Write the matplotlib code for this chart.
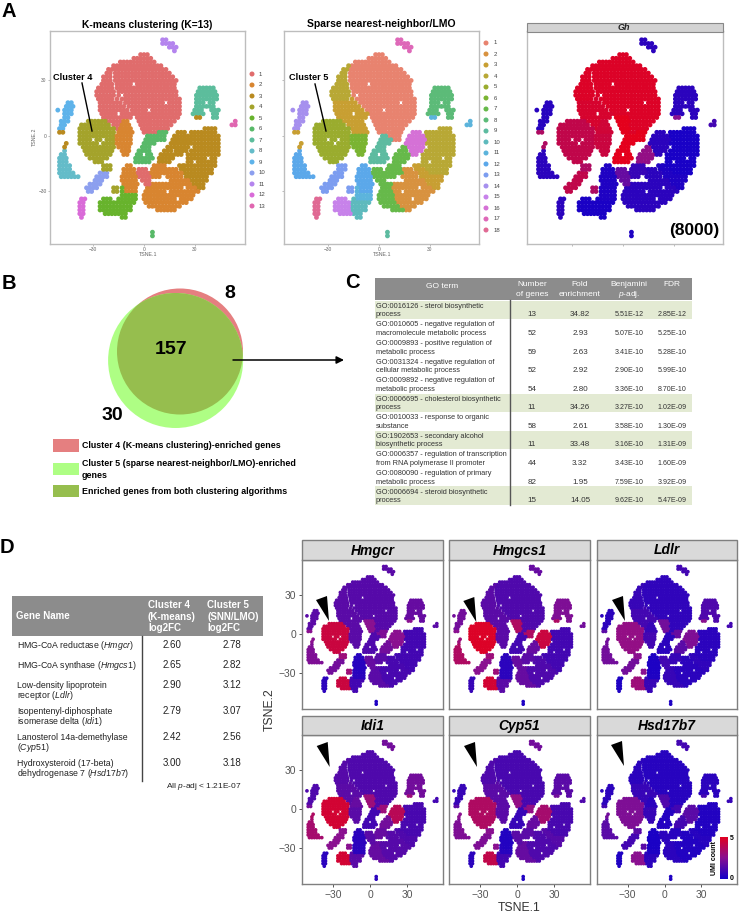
import numpy as np
import matplotlib
matplotlib.use("Agg")
import matplotlib.pyplot as plt
from matplotlib.colors import LinearSegmentedColormap
from matplotlib.patches import Rectangle, Circle, Polygon

plt.rcParams['font.family'] = ['Liberation Sans', 'DejaVu Sans']
plt.rcParams['mathtext.fontset'] = 'custom'
plt.rcParams['mathtext.rm'] = 'Liberation Sans'
plt.rcParams['mathtext.it'] = 'Liberation Sans:italic'
plt.rcParams['mathtext.bf'] = 'Liberation Sans:bold'

W, H = 739, 914

# ---- t-SNE occupancy: (TSNE.2 row, TSNE.1 from, TSNE.1 to) ----
region_a = [(44,-2,3),(42,-6,4),(40,-14,6),(38,-16,10),(36,-17,14),(34,-17,16),(32,-17,18),(30,-17,19),
            (28,-16,19),(26,-16,19),(24,-15,19),(22,-15,19),(20,-13,21),(18,-11,22),(16,-9,22),(14,-7,22),
            (12,-5,22),(10,4,21),(8,4,19),(6,4,16),(4,4,14),(2,4,8)]
region_a2 = [(10,-4,3),(8,-3,3),(6,-2,3),(4,-1,3),(2,0,3)]
region_b = [(38,-18,-18),(36,-21,-19),(34,-22,-19),(32,-24,-19),(30,-24,-19),(28,-25,-18),(26,-27,-18),
            (24,-28,-17),(22,-28,-17),(20,-27,-18)]
region_b2 = [(20,-16,-15),(18,-26,-13),(16,-26,-11),(14,-26,-9),(12,-25,-7),(10,-24,-7),(8,-22,-13),(6,-18,-14),(4,-16,-15)]
region_c = [(8,-33,-23),(6,-37,-20),(4,-38,-18),(2,-38,-17),(0,-38,-17),(-2,-38,-17),(-4,-38,-17),(-6,-36,-17),
            (-8,-35,-18),(-10,-34,-20),(-12,-32,-22),(-14,-29,-24)]
region_d1 = [(8,-12,-9),(6,-13,-8),(4,-14,-7),(2,-15,-7)]
region_d2 = [(0,-16,-7),(-2,-16,-7),(-4,-16,-7),(-6,-15,-8),(-8,-13,-9),(-10,-12,-10)]
region_e1 = [(2,9,13),(0,6,12),(-2,8,12)]
region_e = [(0,2,5),(-2,1,7),(-4,0,6),(-6,-1,4),(-8,-3,4),(-10,-4,4),(-12,-5,5),(-14,-5,4)]
region_f = [(4,36,42),(2,28,43),(0,28,44),(-2,28,44),(-4,28,44),(-6,30,44),(-8,28,44),(-10,26,44),(-12,26,43),
            (-14,26,43),(-16,24,42),(-18,28,41),(-20,30,40)]
region_f2 = [(-16,21,23),(-18,22,27),(-20,24,29),(-22,25,38),(-24,27,37),(-26,29,36),(-28,31,35)]
region_h = [(-6,14,17),(-8,12,17),(-10,10,18),(-12,9,18),(-14,9,16)]
region_i = [(2,20,25),(0,18,27),(-2,17,27),(-4,16,27),(-6,18,26),(-8,19,25),(-10,20,22),(-10,24,25)]
region_g7 = [(-16,6,12),(-18,5,14),(-20,4,15),(-22,3,10)]
region_g2 = [(-18,15,20),(-20,16,22),(-22,14,23),(-24,16,26),(-26,9,28),(-28,8,30),(-30,8,33),(-32,9,30),
             (-34,10,28),(-36,11,26),(-38,13,22),(-40,16,19)]
region_g7b = [(-26,3,7),(-28,2,7),(-30,1,7),(-32,0,8),(-34,0,9),(-36,1,10),(-38,3,12),(-40,8,14)]
region_l = [(-18,-3,2),(-20,-4,3),(-22,-3,3),(-24,-1,3),(-26,1,3)]
region_k = [(-16,-10,-7),(-18,-12,-6),(-20,-12,-6),(-22,-13,-5),(-24,-13,-5),(-26,-12,-4),(-28,-11,-4),(-30,-11,-5)]
region_j11 = [(-28,-13,-12),(-30,-13,-12),(-32,-13,-5),(-34,-13,-5)]
region_j10 = [(-34,-15,-14),(-36,-16,-6),(-38,-16,-7),(-40,-16,-8),(-42,-15,-10),(-44,-13,-10)]
region_j15 = [(-34,-24,-19),(-36,-26,-17),(-38,-26,-17),(-40,-26,-17),(-42,-23,-17)]
region_o = [(-20,-26,-22),(-22,-28,-22),(-24,-29,-24),(-26,-32,-25),(-28,-34,-27),(-30,-33,-31)]
region_o2 = [(-16,-24,-20),(-18,-24,-20),(-28,-18,-16),(-30,-18,-16)]
region_m = [(-8,-47,-46),(-10,-49,-46),(-12,-50,-45),(-14,-50,-45),(-16,-50,-44),(-18,-50,-43),(-20,-50,-41),(-22,-49,-39)]
region_m2 = [(-4,-46,-46),(-6,-47,-46)]
region_n = [(18,-45,-42),(16,-46,-42),(14,-51,-51),(14,-47,-43),(12,-47,-43),(10,-47,-44),(8,-49,-44),(6,-49,-46),(4,-50,-47)]
region_n2 = [(2,-50,-47)]
region_p = [(52,11,14),(50,11,17),(48,15,19),(46,18,19)]
region_q = [(-34,-37,-35),(-36,-38,-36),(-38,-38,-36),(-40,-38,-36),(-42,-38,-36),(-44,-37,-36)]
region_r = [(26,33,42),(24,32,42),(22,31,43),(20,31,43),(18,31,42),(16,31,42),(14,30,36),(14,40,44),(12,29,35),(12,41,44),(10,41,44)]
region_r2 = [(10,31,33)]
region_s = [(8,54,55),(6,52,54)]
region_t = [(-52,5,5),(-54,5,6)]

region_names = ['a','a2','b','b2','c','d1','d2','e1','e','f','f2','h','i','g7','g2','g7b','l','k','j11','j10','j15',
                'o','o2','m','m2','n','n2','p','q','r','r2','s','t']
region_spans = [region_a,region_a2,region_b,region_b2,region_c,region_d1,region_d2,region_e1,region_e,region_f,region_f2,
                region_h,region_i,region_g7,region_g2,region_g7b,region_l,region_k,region_j11,region_j10,region_j15,
                region_o,region_o2,region_m,region_m2,region_n,region_n2,region_p,region_q,region_r,region_r2,region_s,region_t]

kmeans_label = [1,1,1,1,4,2,2,6,6,3,3,3,3,2,2,2,1,2,5,5,5,10,4,8,3,9,3,11,12,7,3,13,6]
snn_label    = [1,1,4,3,5,3,6,1,9,4,3,7,16,7,2,7,7,12,11,10,15,13,13,12,3,14,3,17,18,8,11,11,9]

# expression level of each region on a 0-1 colour scale, same order as region_names
gh      = [.95,1,.95,.92,.8,.88,.85,1,1,.02,.05,.55,.1,.15,.1,.1,.35,.05,.05,.03,.03,.8,.7,.1,.7,.08,.7,.1,.1,.1,.5,.2,.05]
hmgcr   = [.28,.5,.3,.3,.85,.3,.3,.45,.25,.2,.2,.4,.5,.3,.22,.3,.35,.08,.1,.2,.85,.4,.6,.45,.5,.3,.5,.3,.1,.35,.5,.3,.05]
hmgcs1  = [.25,.7,.3,.3,.95,.3,.3,.7,.2,.2,.2,.35,.85,.3,.25,.35,.35,.1,.1,.3,.9,.5,.6,.7,.6,.4,.5,.35,.15,.45,.7,.4,.05]
ldlr    = [.12,.4,.15,.2,.55,.15,.2,.35,.1,.1,.12,.3,.45,.15,.1,.15,.2,.04,.05,.15,.6,.4,.5,.4,.4,.1,.3,.2,.05,.25,.5,.2,.05]
idi1    = [.25,.6,.28,.3,.9,.35,.3,.6,.2,.22,.25,.4,.75,.35,.28,.35,.3,.1,.1,.3,.9,.5,.5,.65,.7,.25,.4,.4,.1,.4,.6,.2,.1]
cyp51   = [.22,.55,.25,.3,.7,.3,.3,.55,.15,.22,.28,.35,.65,.3,.25,.35,.3,.06,.08,.2,.8,.45,.5,.45,.5,.15,.3,.4,.1,.3,.4,.25,.05]
hsd17b7 = [.08,.25,.1,.15,.45,.1,.15,.2,.07,.06,.08,.2,.3,.08,.06,.1,.1,.03,.04,.1,.5,.2,.3,.3,.4,.1,.2,.2,.05,.1,.2,.15,.05]

# empty patches inside the clouds
gaps = [(-18,26),(-13,22),(-6,28),(2,24),(8,30),(-10,33),(14,24),(12,12),(7,10),(-2,18),(-8,15),(3,14),(13,18),(18,14),
        (-15,12),(6,20),(-21,30),(-26,-4),(-29,-6),(-24,-2),(-30,-2),(-22,-8),(-27,-10),(-11,-2),(-9,0),(27,-6),(24,-10),
        (30,-14),(35,-6),(38,-12),(33,-20),(14,-30),(20,-34),(24,-28),(12,-26),(37,18),(36,20),(38,16),(36,14),(0,-10)]

kmeans_colors = ['#E06C6C','#D88530','#B98A1F','#A4A32B','#67B32C','#58B968','#5CBD9C','#64BCC9','#5EB3EA','#8C9FEF',
                 '#B484EE','#D96BD8','#E066B0']
snn_colors = ['#E8836F','#D8923F','#C89F32','#B8A835','#9AAC2E','#7AB432','#66B94A','#5CBB78','#5DBBA0','#5EBABD',
              '#5CB4DC','#5BA8EA','#7C9DF0','#A690EE','#C782EA','#D571D6','#DE68B8','#E06A94']

gene_panels = ['Hmgcr','Hmgcs1','Ldlr','Idi1','Cyp51','Hsd17b7']
gene_values = [hmgcr,hmgcs1,ldlr,idi1,cyp51,hsd17b7]
umi_cmap = LinearSegmentedColormap.from_list('umi', ['#1400C8','#8A1090','#E4001C'])

# ---- tables ----
go_terms = [('GO:0016126 - sterol biosynthetic','process'),
            ('GO:0010605 - negative regulation of','macromolecule metabolic process'),
            ('GO:0009893 - positive regulation of','metabolic process'),
            ('GO:0031324 - negative regulation of','cellular metabolic process'),
            ('GO:0009892 - negative regulation of','metabolic process'),
            ('GO:0006695 - cholesterol biosynthetic','process'),
            ('GO:0010033 - response to organic','substance'),
            ('GO:1902653 - secondary alcohol','biosynthetic process'),
            ('GO:0006357 - regulation of transcription','from RNA polymerase II promoter'),
            ('GO:0080090 - regulation of primary','metabolic process'),
            ('GO:0006694 - steroid biosynthetic','process')]
go_genes = ['13','52','59','52','54','11','58','11','44','82','15']
go_fold = ['34.82','2.93','2.63','2.92','2.80','34.26','2.61','33.48','3.32','1.95','14.05']
go_padj = ['5.51E-12','5.07E-10','3.41E-10','2.90E-10','3.36E-10','3.27E-10','3.58E-10','3.16E-10','3.43E-10','7.59E-10','9.62E-10']
go_fdr = ['2.85E-12','5.25E-10','5.28E-10','5.99E-10','8.70E-10','1.02E-09','1.30E-09','1.31E-09','1.60E-09','3.92E-09','5.47E-09']
go_shaded = [0,5,7,10]

gene_lines = [['HMG-CoA reductase ($\\mathit{Hmgcr}$)'],
              ['HMG-CoA synthase ($\\mathit{Hmgcs1}$)'],
              ['Low-density lipoprotein','receptor ($\\mathit{Ldlr}$)'],
              ['Isopentenyl-diphosphate','isomerase delta ($\\mathit{Idi1}$)'],
              ['Lanosterol 14a-demethylase','($\\mathit{Cyp51}$)'],
              ['Hydroxysteroid (17-beta)','dehydrogenase 7 ($\\mathit{Hsd17b7}$)']]
log2fc_c4 = ['2.60','2.65','2.90','2.79','2.42','3.00']
log2fc_c5 = ['2.78','2.82','3.12','3.07','2.56','3.18']

# ---- expand occupancy into points ----
px, py, preg = [], [], []
for r, spans in enumerate(region_spans):
    for y, x0, x1 in spans:
        for x in range(x0, x1 + 1, 2):
            if any(abs(x - gx) < 1 and abs(y - gy) <= 1 for gx, gy in gaps):
                continue
            px.append(x); py.append(y); preg.append(r)
px, py, preg = np.array(px), np.array(py), np.array(preg)

fig = plt.figure(figsize=(W / 100, H / 100), dpi=100, facecolor='white')

def panel(l, t, r, b, edge, lw):
    ax = fig.add_axes([l / W, 1 - b / H, (r - l) / W, (b - t) / H])
    for s in ax.spines.values():
        s.set_color(edge); s.set_linewidth(lw)
    return ax

SMALL = '#666666'
def small_panel(l, r, x0px, labels_x, labels_y):
    ax = panel(l, 31, r, 244, '#BDBDBD', 1.0)
    ax.set_xlim((l - x0px) / 1.69, (r - x0px) / 1.69)
    ax.set_ylim((136 - 244) / 1.85, (136 - 31) / 1.85)
    ax.set_xticks([-30, 0, 30]); ax.set_yticks([-30, 0, 30])
    ax.tick_params(length=1.5, width=0.4, color='#888888', labelsize=3.5, labelcolor=SMALL, pad=1,
                   labelbottom=labels_x, labelleft=labels_y)
    return ax

# panel A
ax1 = small_panel(50, 245, 144, True, True)
ax1.scatter(px, py, s=12, c=[kmeans_colors[kmeans_label[i] - 1] for i in preg], linewidths=0)
ax2 = small_panel(284, 479, 379, True, False)
ax2.scatter(px, py, s=12, c=[snn_colors[snn_label[i] - 1] for i in preg], linewidths=0)
ax3 = small_panel(527, 723, 623, False, False)
ax3.scatter(px, py, s=12, c=np.array(gh)[preg], cmap=umi_cmap, vmin=0, vmax=1, linewidths=0)
ax3.set_yticks([])

# panel D
cols = [(302, 443), (449, 590), (597, 737)]
rows = [(560, 709, 634), (735, 884, 809)]
for k, (gene, vals) in enumerate(zip(gene_panels, gene_values)):
    l, r = cols[k % 3]
    t, b, y0 = rows[k // 3]
    ax = panel(l, t, r, b, '#7F7F7F', 1.0)
    ax.set_xlim(-55, 59); ax.set_ylim(-57.7, 57)
    ax.scatter(px, py, s=7, c=np.array(vals)[preg], cmap=umi_cmap, vmin=0, vmax=1, linewidths=0)
    ax.set_xticks([-30, 0, 30] if k >= 3 else [])
    ax.set_yticks([-30, 0, 30] if k % 3 == 0 else [])
    ax.set_xticklabels(['\u221230', '0', '30'] if k >= 3 else [])
    ax.set_yticklabels(['\u221230', '0', '30'] if k % 3 == 0 else [])
    ax.tick_params(length=2.5, width=0.7, color='#555555', labelsize=7.4, labelcolor='#555555', pad=1.5)

# colour bar
cax = fig.add_axes([720 / W, 1 - 879 / H, 8 / W, 42 / H])
cax.imshow(np.linspace(1, 0, 64).reshape(-1, 1), cmap=umi_cmap, aspect='auto', vmin=0, vmax=1)
cax.axis('off')

# overlay in pixel coordinates
ov = fig.add_axes([0, 0, 1, 1], facecolor='none')
ov.set_xlim(0, W); ov.set_ylim(H, 0); ov.axis('off')
T = ov.text

for s, x, y in zip('ABCD', (2, 2, 345, 0), (17, 289, 288, 553)):
    T(x, y, s, fontsize=14.5, fontweight='bold', ha='left', va='baseline')

T(147, 25, 'K-means clustering (K=13)', fontsize=7.4, fontweight='bold', ha='center', va='center')
T(381, 24, 'Sparse nearest-neighbor/LMO', fontsize=7.5, fontweight='bold', ha='center', va='center')
T(53, 77, 'Cluster 4', fontsize=6.6, fontweight='bold', va='center')
T(289, 77, 'Cluster 5', fontsize=6.6, fontweight='bold', va='center')
ov.plot([82, 92], [83, 131], color='black', lw=1)
ov.plot([315, 326], [84, 131], color='black', lw=1)
for x, y, s, rot in [(148, 254, 'TSNE.1', 0), (34, 137, 'TSNE.2', 90), (382, 254, 'TSNE.1', 0)]:
    T(x, y, s, fontsize=3.8, color=SMALL, ha='center', va='center', rotation=rot)

ov.scatter([252] * 13, [74 + 11 * i for i in range(13)], s=13, c=kmeans_colors, linewidths=0)
for i in range(13):
    T(259, 74 + 11 * i, str(i + 1), fontsize=4.3, color='#444444', va='center')
ov.scatter([486] * 18, [43 + 11 * i for i in range(18)], s=13, c=snn_colors, linewidths=0)
for i in range(18):
    T(494, 43 + 11 * i, str(i + 1), fontsize=4.3, color='#444444', va='center')

ov.add_patch(Rectangle((527, 23), 196, 9, fc='#D3D3D3', ec='#888888', lw=0.8))
T(624, 28, 'Gh', fontsize=6.5, fontstyle='italic', fontweight='bold', ha='center', va='center', color='#222222')
T(719, 231, '(8000)', fontsize=12.5, fontweight='bold', ha='right', va='center')

# panel B
pink = Circle((180, 351.5), 63, fc='#E57F80', ec='none')
ov.add_patch(pink)
lime = Circle((175.6, 360.5), 67.5, fc='#AEFE84', ec='none')
ov.add_patch(lime)
both = Circle((180, 351.5), 63, fc='#96BE4E', ec='none')
ov.add_patch(both)
both.set_clip_path(Circle((175.6, 360.5), 67.5, transform=ov.transData))
T(171, 350, '157', fontsize=14, fontweight='bold', ha='center', va='center')
T(230, 294, '8', fontsize=14, fontweight='bold', ha='center', va='center')
T(112, 416, '30', fontsize=14, fontweight='bold', ha='center', va='center')
ov.annotate('', xy=(344, 360), xytext=(233, 360), arrowprops=dict(arrowstyle='-|>', color='black', lw=1.1, mutation_scale=11, shrinkA=0, shrinkB=0))
for y0, y1, c in [(439, 452, '#E57F80'), (463, 475, '#AEFE84'), (485, 497, '#96BE4E')]:
    ov.add_patch(Rectangle((53, y0), 26, y1 - y0, fc=c, ec='none'))
T(82, 445, 'Cluster 4 (K-means clustering)-enriched genes', fontsize=6.4, fontweight='bold', va='center')
T(82, 463, 'Cluster 5 (sparse nearest-neighbor/LMO)-enriched', fontsize=6.4, fontweight='bold', va='center')
T(82, 475, 'genes', fontsize=6.4, fontweight='bold', va='center')
T(82, 491, 'Enriched genes from both clustering algorithms', fontsize=6.4, fontweight='bold', va='center')

# panel C
ov.add_patch(Rectangle((375, 278), 317, 22, fc='#8C8C8C', ec='none'))
step = 18.57
top = 300.7
for i in go_shaded:
    ov.add_patch(Rectangle((375, top + i * step), 317, step, fc='#E3EAD3', ec='none'))
ov.plot([510, 510], [300, 505], color='#555555', lw=1)
hc = dict(color='white', fontsize=6.0, ha='center', va='center')
T(442, 286, 'GO term', **hc)
T(532, 285, 'Number', **hc); T(532, 294, 'of genes', **hc)
T(580, 285, 'Fold', **hc); T(580, 294, 'enrichment', **hc)
T(629, 285, 'Benjamini', **hc); T(629, 294, '$\\mathit{p}$-adj.', **hc)
T(672, 285, 'FDR', **hc)
for i, (a, b) in enumerate(go_terms):
    y = top + i * step
    T(376, y + 5.6, a, fontsize=5.3, color='#333333', va='center')
    T(376, y + 14.2, b, fontsize=5.3, color='#333333', va='center')
    T(532, y + 14.2, go_genes[i], fontsize=5.8, color='#333333', ha='center', va='center')
    T(580, y + 14.2, go_fold[i], fontsize=5.8, color='#333333', ha='center', va='center')
    T(629, y + 14.2, go_padj[i], fontsize=5.1, color='#333333', ha='center', va='center')
    T(672, y + 14.2, go_fdr[i], fontsize=5.1, color='#333333', ha='center', va='center')

# table in panel D
ov.add_patch(Rectangle((12, 596), 251, 40, fc='#8C8C8C', ec='none'))
ov.plot([142, 142], [636, 781], color='#444444', lw=1)
hd = dict(color='white', fontsize=7, fontweight='bold', va='center')
T(16, 616, 'Gene Name', **hd)
for x, ls in [(148, ('Cluster 4', '(K-means)', 'log2FC')), (207, ('Cluster 5', '(SNN/LMO)', 'log2FC'))]:
    for y, s in zip((605, 617, 628), ls):
        T(x, y, s, **hd)
row_y = [[645], [665], [685, 695], [711, 721], [737, 747], [763, 773]]
for ls, ys, a, b in zip(gene_lines, row_y, log2fc_c4, log2fc_c5):
    for s, y in zip(ls, ys):
        T(17, y, s, fontsize=6.3, color='#222222', va='center')
    T(172, ys[0], a, fontsize=7, color='#222222', ha='center', va='center')
    T(232, ys[0], b, fontsize=7, color='#222222', ha='center', va='center')
T(204, 786, 'All $\\mathit{p}$-adj < 1.21E-07', fontsize=6, color='#222222', ha='center', va='center')

# strips and arrowheads of panel D
strip_rows = [(540, 560), (716, 735)]
tri_offsets = [(0, 0), (147.3, 1), (296, 0), (0.7, 146), (148, 146), (295, 145)]
for k, gene in enumerate(gene_panels):
    l, r = cols[k % 3]
    t, b = strip_rows[k // 3]
    ov.add_patch(Rectangle((l, t), r - l, b - t, fc='#D9D9D9', ec='#7F7F7F', lw=1))
    T((l + r) / 2, (t + b) / 2 + 0.5, gene, fontsize=10, fontweight='bold', fontstyle='italic', ha='center', va='center')
    dx, dy = tri_offsets[k]
    ov.add_patch(Polygon([(316 + dx, 600 + dy), (327 + dx, 596 + dy), (329 + dx, 621 + dy)], fc='black', ec='none'))

T(519, 908, 'TSNE.1', fontsize=8.8, color='#333333', ha='center', va='center')
T(270, 710, 'TSNE.2', fontsize=8.8, color='#333333', ha='center', va='center', rotation=90)
T(715, 858, 'UMI count', fontsize=5, fontweight='bold', ha='center', va='center', rotation=90)
T(730, 838, '5', fontsize=5, fontweight='bold', va='center')
T(730, 879, '0', fontsize=5, fontweight='bold', va='center')

fig.savefig('out.png', dpi=100)
